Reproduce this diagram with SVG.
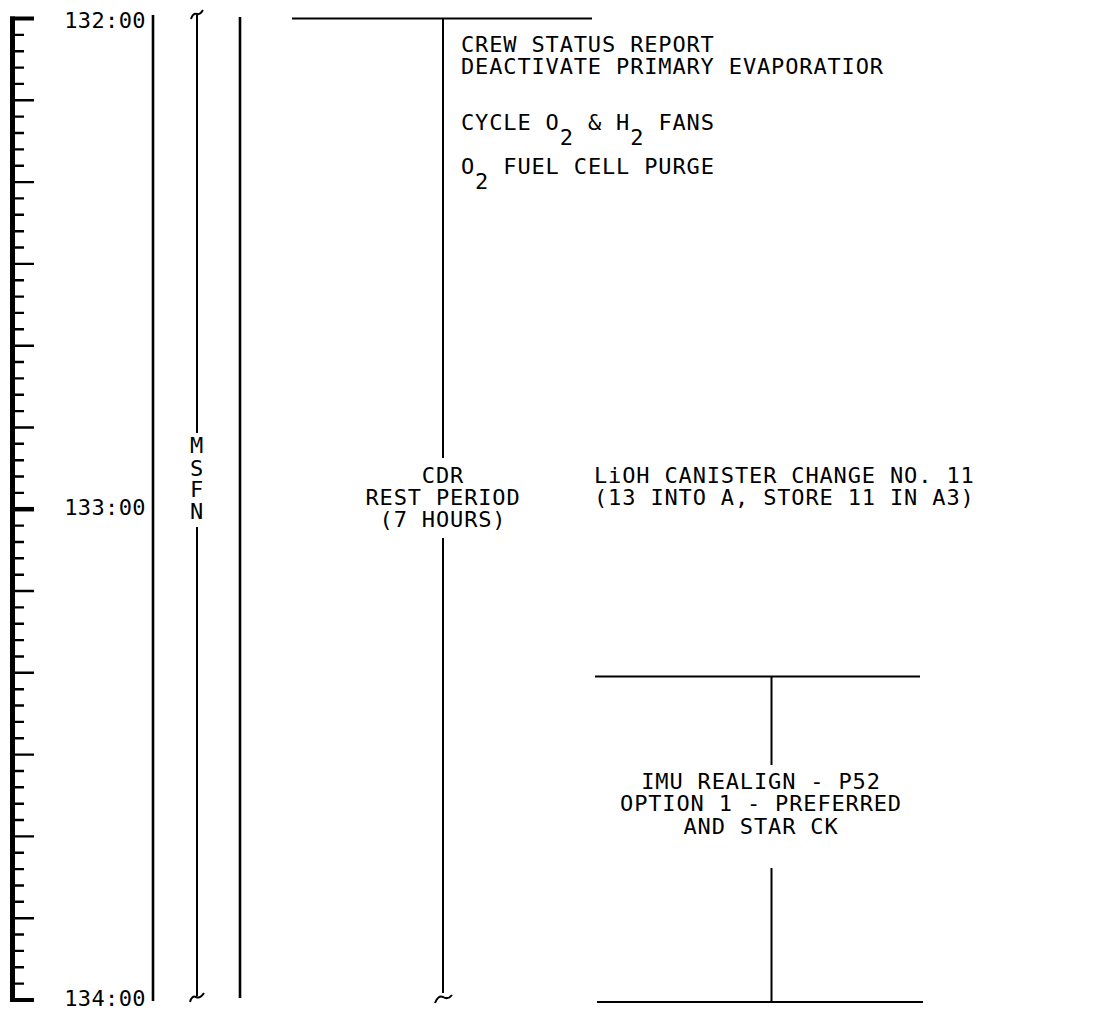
<svg xmlns="http://www.w3.org/2000/svg" width="1116" height="1011" viewBox="0 0 1116 1011">
<style>
  text { font-family: "DejaVu Sans Mono", "Liberation Mono", monospace; font-size: 22px; fill: #000; letter-spacing: 0.85px; }
  .t { letter-spacing: 0.4px; }
  .mid { text-anchor: middle; }
  .end { text-anchor: end; }
  .ln { stroke: #000; stroke-width: 2; fill: none; stroke-linecap: butt; }
  .thick { stroke: #000; stroke-width: 2.6; fill: none; }
  .tick { stroke: #000; stroke-width: 2.4; fill: none; }
</style>
<rect width="1116" height="1011" fill="#fff"/>
<g id="ruler">
  <path class="thick" d="M12.5 16.5 V1002" style="stroke-width:5"/>
  <path class="tick" d="M10 18.5 H34 M10 1000 H34" style="stroke-width:4"/>
  <path class="tick" d="M13 34.9 H24 M13 51.2 H24 M13 67.6 H24 M13 83.9 H24 M13 100.3 H34 M13 116.6 H24 M13 133 H24 M13 149.4 H24 M13 165.7 H24 M13 182.1 H34 M13 198.4 H24 M13 214.8 H24 M13 231.2 H24 M13 247.5 H24 M13 263.9 H34 M13 280.2 H24 M13 296.6 H24 M13 312.9 H24 M13 329.3 H24 M13 345.7 H34 M13 362 H24 M13 378.4 H24 M13 394.7 H24 M13 411.1 H24 M13 427.5 H34 M13 443.8 H24 M13 460.2 H24 M13 476.5 H24 M13 492.9 H24 M13 525.6 H24 M13 542 H24 M13 558.3 H24 M13 574.7 H24 M13 591 H34 M13 607.4 H24 M13 623.7 H24 M13 640.1 H24 M13 656.5 H24 M13 672.8 H34 M13 689.2 H24 M13 705.5 H24 M13 721.9 H24 M13 738.3 H24 M13 754.6 H34 M13 771 H24 M13 787.3 H24 M13 803.7 H24 M13 820 H24 M13 836.4 H34 M13 852.8 H24 M13 869.1 H24 M13 885.5 H24 M13 901.8 H24 M13 918.2 H34 M13 934.5 H24 M13 950.9 H24 M13 967.3 H24 M13 983.6 H24"/>
  <path class="tick" d="M13 509.2 H34" style="stroke-width:4.5"/>
</g>
<g id="times">
  <text class="t end" x="146" y="28">132:00</text>
  <text class="t end" x="146" y="515">133:00</text>
  <text class="t end" x="146" y="1006">134:00</text>
</g>
<g id="connectors">
  <path class="thick" d="M153 15 V1001"/>
  <path class="ln" d="M197 15 V433 M197 527 V996"/>
  <path class="ln" d="M191 19 Q193 13 197 14 Q200 15 203 10"/>
  <path class="ln" d="M190 1002 Q192 995 196 997 Q200 999 204 993"/>
  <path class="thick" d="M240 17 V998"/>
  <path class="ln" d="M292 18.5 H592"/>
  <path class="ln" d="M443 19 V458 M443 538 V993"/>
  <path class="ln" d="M435 1003 Q438 995 443 997 Q448 1000 452 995"/>
  <path class="ln" d="M595 676.5 H920 M771.5 677 V765 M771.5 868 V1002 M597 1002 H923"/>
</g>
<g id="msfn">
  <text class="mid" x="197" y="453">M</text>
  <text class="mid" x="197" y="476">S</text>
  <text class="mid" x="197" y="497">F</text>
  <text class="mid" x="197" y="519">N</text>
</g>
<g id="events-top">
  <text x="461" y="52">CREW STATUS REPORT</text>
  <text x="461" y="74">DEACTIVATE PRIMARY EVAPORATIOR</text>
  <text x="461" y="130">CYCLE O<tspan dy="15">2</tspan><tspan dy="-15"> &amp; H</tspan><tspan dy="15">2</tspan><tspan dy="-15"> FANS</tspan></text>
  <text x="461" y="174">O<tspan dy="15">2</tspan><tspan dy="-15"> FUEL CELL PURGE</tspan></text>
</g>
<g id="cdr-rest">
  <text class="mid" x="443" y="483">CDR</text>
  <text class="mid" x="443" y="505">REST PERIOD</text>
  <text class="mid" x="443" y="527">(7 HOURS)</text>
</g>
<g id="lioh">
  <text x="594" y="483">LiOH CANISTER CHANGE NO. 11</text>
  <text x="594" y="505">(13 INTO A, STORE 11 IN A3)</text>
</g>
<g id="imu">
  <text class="mid" x="761" y="789">IMU REALIGN - P52</text>
  <text class="mid" x="761" y="811">OPTION 1 - PREFERRED</text>
  <text class="mid" x="761" y="834">AND STAR CK</text>
</g>
</svg>
